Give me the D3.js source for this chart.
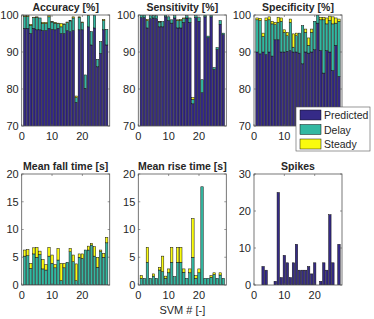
<!DOCTYPE html>
<html>
<head>
<meta charset="utf-8">
<script src="https://cdn.jsdelivr.net/npm/d3@7"></script>
<style>
  body { margin: 0; background: #fff; }
  text { font-family: "Liberation Sans", Arial, sans-serif; fill: #262626; }
</style>
</head>
<body>
<script>
const svm = d3.range(1, 29);

// Accuracy [%]
const accPred   = [96.4,96.4,95.0,96.4,96.0,96.0,95.8,95.8,96.4,96.1,96.0,96.4,95.0,95.0,95.8,95.5,95.8,76.4,96.0,96.0,80.2,96.8,91.9,96.5,86.0,89.6,96.0,91.9];
const accDelay  = [3.2,3.2,2.2,2.9,3.4,3.2,1.9,1.9,3.1,2.0,1.8,1.3,1.8,2.5,2.2,2.9,3.4,1.3,3.4,2.0,3.6,3.0,3.6,3.4,2.0,3.2,2.5,4.2];
const accSteady = [0.2,0.2,0.3,0.1,0.1,0,0.3,0.3,0.3,0.1,0.2,0.1,0.9,0.1,0.1,0.1,0.3,0.4,0.1,0.1,0,0.1,0,0,0,0,0.3,0];

// Sensitivity [%]
const senPred   = [99.3,99.3,96.5,99.0,99.2,99.0,96.8,96.8,99.5,98.5,97.8,99.2,96.5,96.5,98.0,99.2,98.0,76.0,99.3,98.3,79.0,99.5,93.9,99.5,85.3,90.7,97.5,94.7];
const senDelay  = [0.7,0.7,2.0,0.8,0.7,0.8,1.3,1.4,0.5,1.0,0.9,0.6,2.0,2.0,1.0,0.6,1.2,1.2,0.5,1.0,3.5,0.4,0.4,0.4,0.5,0.5,1.0,0.4];
const senSteady = [0,0,0.3,0,0,0,0.2,0,0,0,0,0,0.2,0.3,0.2,0,0,0.5,0,0,0,0,0,0,0,0,0,0];

// Specificity [%]
const spePred   = [90.0,89.5,90.0,89.3,90.0,88.9,93.3,93.3,90.0,90.0,90.2,90.4,90.0,90.0,89.7,86.8,90.0,89.7,90.0,90.6,97.8,90.4,84.3,90.4,90.0,85.0,91.8,83.4];
const speDelay  = [8.7,9.0,4.2,9.2,8.7,8.7,4.1,4.7,8.3,5.3,4.2,7.6,1.3,4.4,5.4,10.3,5.3,2.1,5.3,7.7,2.2,8.3,14.4,7.2,8.5,12.6,6.0,14.9];
const speSteady = [0.5,0.6,0.9,0.7,0.8,0.7,0.6,1.4,0.9,0.7,0.9,0.9,3.6,0.7,0,0,0.9,2.0,0.9,0,0,0.7,0.7,1.6,1.2,1.9,1.4,0.6];

// Mean fall time [s]
const fallDelay  = [5.2,5.3,3.0,5.6,5.0,5.5,2.9,2.7,5.2,3.9,3.1,4.5,0.8,3.1,4.1,6.0,4.2,0.8,5.0,4.8,6.3,6.3,7.2,5.2,3.2,6.0,5.0,7.6];
const fallSteady = [1.1,1.1,0.9,1.1,1.8,0.6,1.7,1.0,1.6,1.5,0.6,2.1,3.1,0.8,0,0.6,1.2,3.0,0.6,0.8,0,0.7,0.3,1.7,1.8,0.3,0.7,1.0];

// Mean rise time [s]
const riseDelay  = [1.2,1.2,4.1,1.2,1.6,1.2,2.7,2.4,1.2,2.2,4.1,1.5,4.1,4.1,2.3,1.2,2.2,5.0,1.2,2.2,17.7,1.2,1.2,1.4,1.9,1.2,1.8,1.2];
const riseSteady = [0.5,0,2.7,0,0.4,0,0.5,2.8,0.4,0.7,2.7,0,2.7,2.7,0.6,0,0.7,7.0,0.5,0.7,0,0,0,0.3,0.3,0,0.4,0];

// Spikes
const spikes = [0,0,5,4,0,0,1,25,2,8,6,2,6,11,4,4,4,5,3,6,0,1,6,4,19,6,0,11];

const seriesNames = ["Predicted", "Delay", "Steady"];
const seriesColors = ["#352a87", "#33b8a1", "#f9fb0e"];

const W = 374, H = 319;
const svg = d3.select("body").append("svg").attr("width", W).attr("height", H);

const colX = [21.7, 138.3, 254];
const rowY = [15, 174];
const pw = 88, ph = 111;

function table(pred, delay, steady) {
    return svm.map((s, i) => ({ svm: s, Predicted: pred ? pred[i] : 0, Delay: delay ? delay[i] : 0, Steady: steady ? steady[i] : 0 }));
}

const panels = [
    { title: "Accuracy [%]", rows: table(accPred, accDelay, accSteady), y: [70, 100], ticks: [70, 80, 90, 100] },
    { title: "Sensitivity [%]", rows: table(senPred, senDelay, senSteady), y: [70, 100], ticks: [70, 80, 90, 100] },
    { title: "Specificity [%]", rows: table(spePred, speDelay, speSteady), y: [70, 100], ticks: [70, 80, 90, 100] },
    { title: "Mean fall time [s]", rows: table(null, fallDelay, fallSteady), y: [0, 20], ticks: [0, 5, 10, 15, 20] },
    { title: "Mean rise time [s]", rows: table(null, riseDelay, riseSteady), y: [0, 20], ticks: [0, 5, 10, 15, 20] },
    { title: "Spikes", rows: table(spikes, null, null), y: [0, 30], ticks: [0, 10, 20, 30] }
];

const stack = d3.stack().keys(seriesNames);

panels.forEach((p, k) => {
    const left = colX[k % 3], top = rowY[Math.floor(k / 3)];
    const x = d3.scaleLinear().domain([0, 29]).range([left, left + pw]);
    const y = d3.scaleLinear().domain(p.y).range([top + ph, top]);
    const g = svg.append("g");

    g.append("clipPath").attr("id", "clip" + k)
        .append("rect").attr("x", left).attr("y", top).attr("width", pw).attr("height", ph);

    const bw = (x(1) - x(0)) * 0.8;
    const layers = stack(p.rows);
    g.append("g").attr("clip-path", `url(#clip${k})`)
        .selectAll("g").data(layers).join("g")
        .attr("fill", (d, i) => seriesColors[i])
        .selectAll("rect").data(d => d.filter(v => v[1] - v[0] > 0)).join("rect")
        .attr("x", d => x(d.data.svm) - bw / 2)
        .attr("width", bw)
        .attr("y", d => y(d[1]))
        .attr("height", d => y(d[0]) - y(d[1]))
        .attr("stroke", "#111")
        .attr("stroke-width", 0.5);

    // box
    g.append("rect").attr("x", left).attr("y", top).attr("width", pw).attr("height", ph)
        .attr("fill", "none").attr("stroke", "#555").attr("stroke-width", 0.8);

    // ticks inside
    const tl = 2;
    p.ticks.forEach(t => {
        g.append("line").attr("x1", left).attr("x2", left + tl).attr("y1", y(t)).attr("y2", y(t)).attr("stroke", "#555").attr("stroke-width", 0.6);
        g.append("line").attr("x1", left + pw).attr("x2", left + pw - tl).attr("y1", y(t)).attr("y2", y(t)).attr("stroke", "#555").attr("stroke-width", 0.6);
        g.append("text").attr("x", left - 3).attr("y", y(t) + 3.8).attr("text-anchor", "end")
            .attr("font-size", 11).text(t);
    });
    [0, 10, 20].forEach(t => {
        g.append("line").attr("x1", x(t)).attr("x2", x(t)).attr("y1", top + ph).attr("y2", top + ph - tl).attr("stroke", "#555").attr("stroke-width", 0.6);
        g.append("line").attr("x1", x(t)).attr("x2", x(t)).attr("y1", top).attr("y2", top + tl).attr("stroke", "#555").attr("stroke-width", 0.6);
        g.append("text").attr("x", x(t)).attr("y", top + ph + 14).attr("text-anchor", "middle")
            .attr("font-size", 11).text(t);
    });

    g.append("text").attr("x", left + pw / 2).attr("y", top - 4).attr("text-anchor", "middle")
        .attr("font-size", 10.5).attr("font-weight", "bold").attr("fill", "#000").text(p.title);
});

svg.append("text").attr("x", colX[1] + pw / 2).attr("y", 314).attr("text-anchor", "middle")
    .attr("font-size", 11).text("SVM # [-]");

// legend
const lg = svg.append("g");
lg.append("rect").attr("x", 296).attr("y", 107).attr("width", 74).attr("height", 44)
    .attr("fill", "#fff").attr("stroke", "#555").attr("stroke-width", 0.6);
seriesNames.forEach((n, i) => {
    const cy = 115 + i * 14.5;
    lg.append("rect").attr("x", 300).attr("y", cy - 5).attr("width", 21).attr("height", 10)
        .attr("fill", seriesColors[i]).attr("stroke", "#111").attr("stroke-width", 0.5);
    lg.append("text").attr("x", 324).attr("y", cy + 4).attr("font-size", 10.5).text(n);
});
</script>
</body>
</html>
